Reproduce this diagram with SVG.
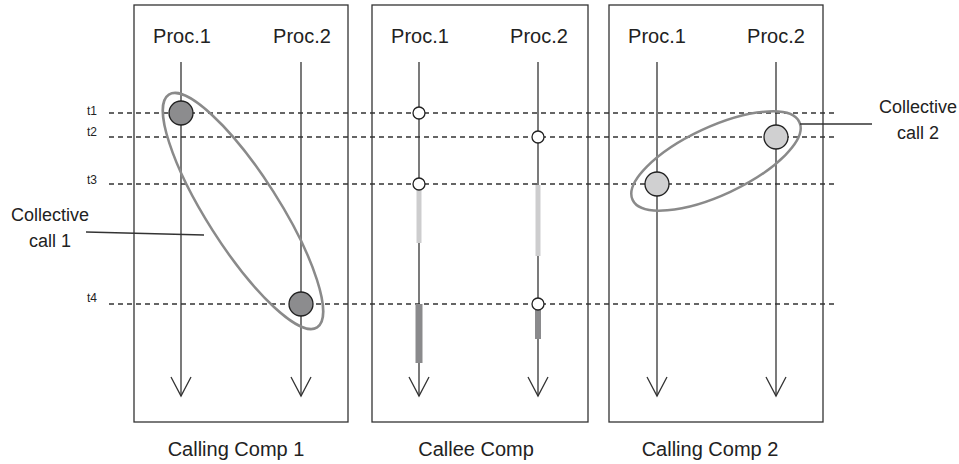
<svg xmlns="http://www.w3.org/2000/svg" width="959" height="464" viewBox="0 0 959 464">
<style>
text{font-family:"Liberation Sans",Arial,sans-serif;fill:#222}
.lbl{font-size:20px;text-anchor:middle}
.side{font-size:18px;text-anchor:middle}
.t{font-size:12px}
.box{fill:none;stroke:#333;stroke-width:1.3}
.dash{stroke:#333;stroke-width:1.3;stroke-dasharray:5 4;fill:none}
.life{stroke:#333;stroke-width:1.3;fill:none}
.ell{fill:none;stroke:#8a8a8a;stroke-width:2.5}
.dk{fill:#8c8c8e;stroke:#222;stroke-width:1.3}
.lt{fill:#d0d0d1;stroke:#222;stroke-width:1.3}
.sm{fill:#fff;stroke:#222;stroke-width:1.3}
.lead{stroke:#333;stroke-width:1.3;fill:none}
</style>
<defs>
<marker id="arr" markerUnits="userSpaceOnUse" markerWidth="30" markerHeight="30" refX="0" refY="0" viewBox="-25 -15 30 30" orient="auto" overflow="visible">
<path d="M-19,-10 L0,0 L-19,10" fill="none" stroke="#333" stroke-width="1.3"/>
</marker>
</defs>
<rect width="959" height="464" fill="#fff"/>
<g id="box1">
<rect class="box" x="134" y="5" width="214" height="417"/>
<text class="lbl" x="182" y="43">Proc.1</text>
<text class="lbl" x="302" y="43">Proc.2</text>
<text class="lbl" x="236" y="456">Calling Comp 1</text>
</g>
<g id="box2">
<rect class="box" x="372" y="5" width="216" height="417"/>
<text class="lbl" x="420" y="43">Proc.1</text>
<text class="lbl" x="539" y="43">Proc.2</text>
<text class="lbl" x="476" y="456">Callee Comp</text>
</g>
<g id="box3">
<rect class="box" x="609" y="5" width="214" height="417"/>
<text class="lbl" x="657" y="43">Proc.1</text>
<text class="lbl" x="776" y="43">Proc.2</text>
<text class="lbl" x="710" y="456">Calling Comp 2</text>
</g>
<g id="timelines">
<line class="dash" x1="109" y1="113" x2="836" y2="113"/>
<line class="dash" x1="109" y1="137" x2="836" y2="137"/>
<line class="dash" x1="109" y1="184" x2="836" y2="184"/>
<line class="dash" x1="109" y1="304" x2="836" y2="304"/>
<text class="t" x="87" y="115">t1</text>
<text class="t" x="87" y="136">t2</text>
<text class="t" x="87" y="184">t3</text>
<text class="t" x="87" y="302">t4</text>
</g>
<g id="connectors">
<line class="life" x1="181" y1="62" x2="181" y2="396" marker-end="url(#arr)"/>
<line class="life" x1="301" y1="62" x2="301" y2="396" marker-end="url(#arr)"/>
<line class="life" x1="419" y1="62" x2="419" y2="396" marker-end="url(#arr)"/>
<line class="life" x1="538" y1="62" x2="538" y2="396" marker-end="url(#arr)"/>
<line class="life" x1="657" y1="62" x2="657" y2="396" marker-end="url(#arr)"/>
<line class="life" x1="776" y1="62" x2="776" y2="396" marker-end="url(#arr)"/>
</g>
<g id="callee-bars">
<line x1="419" y1="190" x2="419" y2="243" stroke="#cdcdce" stroke-width="5"/>
<line x1="538" y1="185" x2="538" y2="256" stroke="#cdcdce" stroke-width="5"/>
<line x1="419" y1="304" x2="419" y2="363" stroke="#8a8a8c" stroke-width="7"/>
<line x1="538" y1="309" x2="538" y2="339" stroke="#8a8a8c" stroke-width="6"/>
<circle class="sm" cx="419" cy="113" r="6"/>
<circle class="sm" cx="538" cy="137" r="6"/>
<circle class="sm" cx="419" cy="184" r="6"/>
<circle class="sm" cx="538" cy="304" r="6"/>
</g>
<g id="collective1">
<ellipse class="ell" cx="243" cy="211" rx="138" ry="36" transform="rotate(57.5 243 211)"/>
<circle class="dk" cx="181" cy="113" r="12"/>
<circle class="dk" cx="301" cy="304" r="12"/>
<line class="lead" x1="86" y1="232" x2="204" y2="235"/>
<text class="side" x="50" y="221">Collective</text>
<text class="side" x="50" y="247">call 1</text>
</g>
<g id="collective2">
<ellipse class="ell" cx="716" cy="161" rx="92" ry="34" transform="rotate(-25 716 161)"/>
<circle class="lt" cx="657" cy="184" r="12"/>
<circle class="lt" cx="776" cy="137" r="12"/>
<line class="lead" x1="800" y1="124" x2="872" y2="124"/>
<text class="side" x="918" y="113">Collective</text>
<text class="side" x="918" y="139">call 2</text>
</g>
</svg>
